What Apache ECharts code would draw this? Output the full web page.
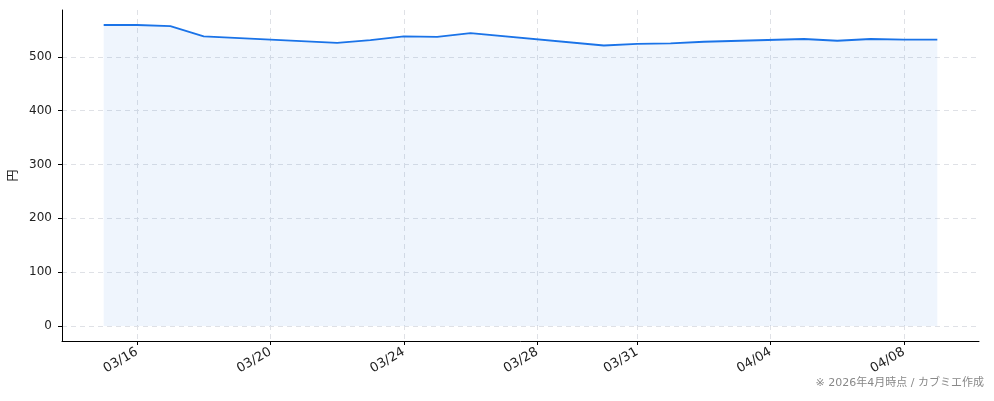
<!DOCTYPE html>
<html>
<head>
<meta charset="utf-8">
<script src="https://cdn.jsdelivr.net/npm/echarts@6/dist/echarts.min.js"></script>
<style>
  html, body { margin: 0; padding: 0; background: #fff; }
  #chart { width: 994px; height: 401px; }
</style>
</head>
<body>
<div id="chart"></div>
<script>
// price per day (円)
const dates = [
  "2026-03-15", "2026-03-16", "2026-03-17", "2026-03-18", "2026-03-22",
  "2026-03-23", "2026-03-24", "2026-03-25", "2026-03-26", "2026-03-30",
  "2026-03-31", "2026-04-01", "2026-04-02", "2026-04-05", "2026-04-06",
  "2026-04-07", "2026-04-08", "2026-04-09"
];
const prices = [
  559, 559, 557, 538, 526,
  531, 538, 537, 544, 521,
  524, 525, 528, 533, 530,
  533, 532, 532
];
const tickDates = ["2026-03-16", "2026-03-20", "2026-03-24", "2026-03-28", "2026-03-31", "2026-04-04", "2026-04-08"];
const yTicks = [0, 100, 200, 300, 400, 500];

// x axis is in days counted from the first date
const DAY = 24 * 3600 * 1000;
const base = Date.UTC(2026, 2, 15);
const dayOf = (s) => {
  const p = s.split("-").map(Number);
  return Math.round((Date.UTC(p[0], p[1] - 1, p[2]) - base) / DAY);
};
const pad2 = (n) => (n < 10 ? "0" : "") + n;
const labelOf = (v) => {
  const d = new Date(base + Math.round(v) * DAY);
  return pad2(d.getUTCMonth() + 1) + "/" + pad2(d.getUTCDate());
};

const first = dayOf(dates[0]);
const last = dayOf(dates[dates.length - 1]);
const xPad = (last - first) * 0.05;
const xTicks = tickDates.map(dayOf);

const font = '"DejaVu Sans", "Noto Sans CJK JP", sans-serif';
const gridLine = { show: true, lineStyle: { color: "#dfe1e6", type: [5, 4], width: 1 } };

var myChart = echarts.init(document.getElementById("chart"));
myChart.setOption({
  animation: false,
  backgroundColor: "#fff",
  grid: {
    left: 62,
    right: 15,
    top: 10,
    bottom: 60,
    outerBoundsMode: "none",
  },
  xAxis: {
    type: "value",
    min: first - xPad,
    max: last + xPad,
    axisLine: { show: true, onZero: false, lineStyle: { color: "#000", width: 1 } },
    axisTick: {
      show: true,
      length: 4,
      customValues: xTicks,
      lineStyle: { color: "#000" },
    },
    axisLabel: {
      customValues: xTicks,
      rotate: 30,
      margin: 10,
      color: "#222",
      fontSize: 13,
      fontFamily: font,
      formatter: labelOf,
    },
    splitLine: gridLine,
  },
  yAxis: {
    type: "value",
    min: -28,
    max: 587,
    name: "円",
    nameLocation: "middle",
    nameRotate: 90,
    nameGap: 42,
    nameTextStyle: { color: "#222", fontSize: 12, fontFamily: '"Noto Sans CJK JP", sans-serif' },
    axisLine: { show: true, onZero: false, lineStyle: { color: "#000", width: 1 } },
    axisTick: {
      show: true,
      length: 4,
      customValues: yTicks,
      lineStyle: { color: "#000" },
    },
    axisLabel: {
      customValues: yTicks,
      margin: 10,
      color: "#222",
      fontSize: 12,
      fontFamily: font,
    },
    splitLine: gridLine,
  },
  series: [
    {
      type: "line",
      data: dates.map((d, i) => [dayOf(d), prices[i]]),
      showSymbol: false,
      symbol: "none",
      lineStyle: { color: "#1a73e8", width: 1.9 },
      areaStyle: { color: "rgba(26,115,232,0.1)", origin: 0 },
      z: 3,
    },
  ],
  graphic: [
    {
      type: "text",
      right: 10,
      bottom: 12,
      style: {
        text: "※ 2026年4月時点 / カブミエ作成",
        fill: "#888",
        fontSize: 11,
        fontFamily: font,
      },
    },
  ],
});
</script>
</body>
</html>
